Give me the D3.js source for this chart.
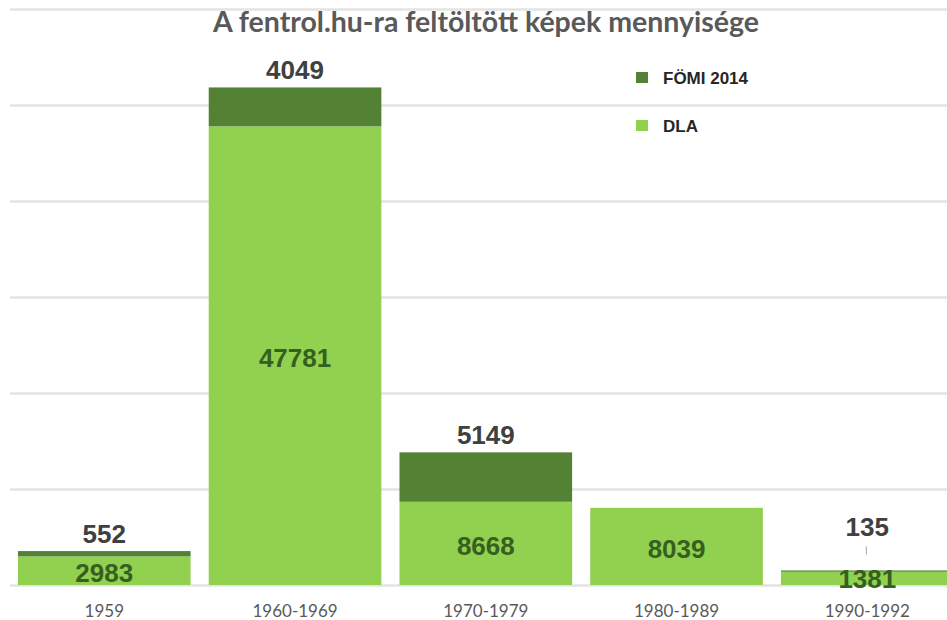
<!DOCTYPE html>
<html>
<head>
<meta charset="utf-8">
<script src="https://cdn.jsdelivr.net/npm/d3@7"></script>
<style>
  html, body { margin: 0; padding: 0; background: #fff; }
  svg { display: block; }
</style>
</head>
<body>
<div id="chart"></div>
<script>
const categories = ['1959', '1960-1969', '1970-1979', '1980-1989', '1990-1992'];
const dla = [2983, 47781, 8668, 8039, 1381];
const fomi = [552, 4049, 5149, 0, 135];
const gridValues = [0, 10000, 20000, 30000, 40000, 50000, 60000];
const seriesNames = ['FÖMI 2014', 'DLA'];

const display = { width: 947, height: 620 };
const colors = { dla: '#92d050', fomi: '#548235' };

const rows = categories.map((c, i) => ({ cat: c, dla: dla[i], fomi: fomi[i] }));
const stacked = d3.stack().keys(['dla', 'fomi'])(rows);

const svg = d3
  .select('#chart')
  .append('svg')
  .attr('width', display.width)
  .attr('height', display.height);

const x = d3
  .scaleBand()
  .domain(categories)
  .range([8.9, 962.7])
  .paddingInner(0.095)
  .paddingOuter(0.0475);

const y = d3.scaleLinear().domain([0, 60000]).range([585, 9]);

// gridlines
svg
  .append('g')
  .attr('transform', 'translate(10,0)')
  .call(d3.axisLeft(y).tickValues(gridValues).tickSize(-940).tickFormat(''))
  .call((g) => g.select('.domain').remove())
  .call((g) => g.selectAll('line').attr('stroke', '#e3e3e3').attr('stroke-width', 2.5));

// title
svg
  .append('text')
  .attr('x', 486)
  .attr('y', 32)
  .attr('text-anchor', 'middle')
  .attr('font-family', 'Lato, "Open Sans", sans-serif')
  .attr('font-weight', 'bold')
  .attr('font-size', 28.5)
  .attr('fill', '#595959')
  .text('A fentrol.hu-ra feltöltött képek mennyisége');

// bars
svg
  .selectAll('g.layer')
  .data(stacked)
  .join('g')
  .attr('class', 'layer')
  .attr('fill', (d) => colors[d.key])
  .selectAll('rect')
  .data((d) => d)
  .join('rect')
  .attr('x', (d) => x(d.data.cat))
  .attr('y', (d) => y(d[1]))
  .attr('width', x.bandwidth())
  .attr('height', (d) => y(d[0]) - y(d[1]));

// DLA labels, centered in segment
svg
  .append('g')
  .selectAll('text')
  .data(rows)
  .join('text')
  .attr('x', (d) => x(d.cat) + x.bandwidth() / 2)
  .attr('y', (d) => Math.min((y(0) + y(d.dla)) / 2, 576) + 11.5)
  .attr('text-anchor', 'middle')
  .attr('font-family', '"Liberation Sans", Arial, sans-serif')
  .attr('font-weight', 'bold')
  .attr('font-size', 26)
  .attr('fill', '#35601f')
  .text((d) => d.dla);

// FÖMI labels above bar
const fomiRows = rows.filter((d) => d.fomi > 0);
const lifted = (d) => y(0) - y(d.dla) < 20;
const fomiLabelY = (d) => (lifted(d) ? y(d.dla + d.fomi) - 34 : y(d.dla + d.fomi) - 8);

svg
  .append('g')
  .selectAll('text')
  .data(fomiRows)
  .join('text')
  .attr('x', (d) => x(d.cat) + x.bandwidth() / 2)
  .attr('y', fomiLabelY)
  .attr('text-anchor', 'middle')
  .attr('font-family', '"Liberation Sans", Arial, sans-serif')
  .attr('font-weight', 'bold')
  .attr('font-size', 26)
  .attr('fill', '#404040')
  .text((d) => d.fomi);

// leader line for lifted label
svg
  .append('g')
  .selectAll('line')
  .data(fomiRows.filter(lifted))
  .join('line')
  .attr('x1', (d) => x(d.cat) + x.bandwidth() / 2 - 1)
  .attr('x2', (d) => x(d.cat) + x.bandwidth() / 2 - 1)
  .attr('y1', (d) => fomiLabelY(d) + 10)
  .attr('y2', (d) => fomiLabelY(d) + 18)
  .attr('stroke', '#a6a6a6')
  .attr('stroke-width', 1);

// category labels
svg
  .append('g')
  .selectAll('text')
  .data(categories)
  .join('text')
  .attr('x', (d) => x(d) + x.bandwidth() / 2)
  .attr('y', 617)
  .attr('text-anchor', 'middle')
  .attr('font-family', 'Lato, "Open Sans", sans-serif')
  .attr('font-size', 17)
  .attr('fill', '#595959')
  .text((d) => d);

// legend
const legend = svg
  .append('g')
  .selectAll('g')
  .data(seriesNames)
  .join('g')
  .attr('transform', (d, i) => `translate(636,${72 + i * 48})`);

legend
  .append('rect')
  .attr('width', 12)
  .attr('height', 11)
  .attr('fill', (d, i) => (i === 0 ? colors.fomi : colors.dla));

legend
  .append('text')
  .attr('x', 27)
  .attr('y', 11.5)
  .attr('font-family', '"Liberation Sans", Arial, sans-serif')
  .attr('font-weight', 'bold')
  .attr('font-size', 17)
  .attr('fill', '#262626')
  .text((d) => d);
</script>
</body>
</html>
